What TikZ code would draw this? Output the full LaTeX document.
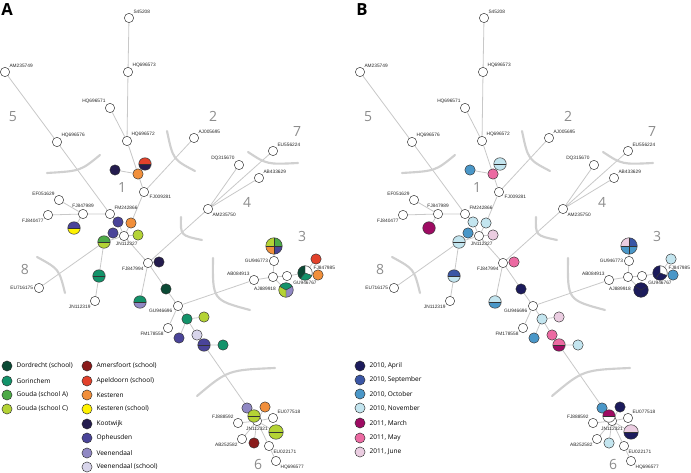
\documentclass[tikz,border=0pt]{standalone}
\usepackage{fontspec}
\setmainfont{Open Sans}
\newfontfamily\lblfont{Liberation Sans}
\usetikzlibrary{backgrounds}

\definecolor{dordrecht}{HTML}{0B4A35}
\definecolor{gorinchem}{HTML}{13936A}
\definecolor{goudaA}{HTML}{4DAA47}
\definecolor{goudaC}{HTML}{B4D335}
\definecolor{amersfoort}{HTML}{8A1B1B}
\definecolor{apeldoorn}{HTML}{E2412B}
\definecolor{kesteren}{HTML}{F18F3B}
\definecolor{kesterenS}{HTML}{FFF200}
\definecolor{kootwijk}{HTML}{241C4E}
\definecolor{opheusden}{HTML}{4A4499}
\definecolor{veenendaal}{HTML}{9088C4}
\definecolor{veenendaalS}{HTML}{D8D5EB}
\definecolor{apr}{HTML}{1C1B5C}
\definecolor{sep}{HTML}{3A56A5}
\definecolor{oct}{HTML}{4A97C8}
\definecolor{nov}{HTML}{C3E5EF}
\definecolor{mar}{HTML}{9E0B63}
\definecolor{may}{HTML}{EC6AA2}
\definecolor{jun}{HTML}{EBCDE1}
\definecolor{edge}{HTML}{C8C8C8}
\definecolor{cut}{HTML}{D0D0D0}
\definecolor{num}{HTML}{8C8C8C}

\tikzset{
  hap/.style={circle, draw=black!80, fill=white, line width=0.35pt, minimum size=7pt, inner sep=0pt},
  dot/.style={hap, minimum size=7.8pt},
  dotm/.style={hap, minimum size=9.4pt},
  dotl/.style={hap, minimum size=10.9pt},
  dotxl/.style={hap, minimum size=12.4pt},
  lbl/.style={font=\lblfont\fontsize{3.6}{4}\selectfont, inner sep=0.6pt, text=black!85},
  link/.style={draw=edge, line width=0.6pt},
  cut/.style={draw=cut, line width=1.6pt, line cap=round},
  nr/.style={font=\fontsize{10.5}{12}\selectfont, text=num, inner sep=0pt},
  panel/.style={font=\bfseries\fontsize{12.5}{14}\selectfont, inner sep=0pt},
  legdot/.style={circle, draw=black!80, line width=0.35pt, minimum size=7.6pt, inner sep=0pt},
  legtxt/.style={font=\fontsize{4.9}{6}\selectfont, inner sep=0pt, xshift=3pt},
  halves/.style 2 args={path picture={
    \fill[#1] (path picture bounding box.north west) rectangle (path picture bounding box.east);
    \fill[#2] (path picture bounding box.west) rectangle (path picture bounding box.south east);
    \draw[line width=0.35pt] (path picture bounding box.west) -- (path picture bounding box.east);}},
  quarters/.style n args={4}{path picture={
    \fill[#1] (path picture bounding box.center) rectangle (path picture bounding box.north west);
    \fill[#2] (path picture bounding box.center) rectangle (path picture bounding box.north east);
    \fill[#3] (path picture bounding box.center) rectangle (path picture bounding box.south west);
    \fill[#4] (path picture bounding box.center) rectangle (path picture bounding box.south east);
    \draw[line width=0.35pt] (path picture bounding box.north) -- (path picture bounding box.south)
      (path picture bounding box.west) -- (path picture bounding box.east);}},
  pie/.style n args={6}{fill=#3, path picture={
    \fill[#1] (path picture bounding box.center) -- ++(#4:8pt) arc[start angle=#4, end angle=#5, radius=8pt] -- cycle;
    \fill[#2] (path picture bounding box.center) -- ++(#5:8pt) arc[start angle=#5, end angle=#6, radius=8pt] -- cycle;
    \draw[line width=0.35pt] (path picture bounding box.center) -- ++(#4:8pt)
      (path picture bounding box.center) -- ++(#5:8pt) (path picture bounding box.center) -- ++(#6:8pt);}},
  % barvy vzorku v panelu A a B
  A-h1/.style={fill=kootwijk}, B-h1/.style={fill=oct},
  A-h2/.style={fill=kesteren}, B-h2/.style={fill=may},
  A-h3/.style={halves={apeldoorn}{kootwijk}}, B-h3/.style={halves={nov}{nov}},
  A-h4/.style={halves={opheusden}{kesterenS}}, B-h4/.style={fill=mar},
  A-h5/.style={fill=opheusden}, B-h5/.style={fill=nov},
  A-h6/.style={fill=kesteren}, B-h6/.style={fill=nov},
  A-h7/.style={fill=opheusden}, B-h7/.style={fill=oct},
  A-h8/.style={fill=goudaC}, B-h8/.style={fill=jun},
  A-h9/.style={halves={goudaA}{goudaC}}, B-h9/.style={halves={nov}{nov}},
  A-h10/.style={halves={gorinchem}{gorinchem}}, B-h10/.style={halves={sep}{nov}},
  A-h11/.style={fill=kootwijk}, B-h11/.style={fill=may},
  A-h12/.style={fill=dordrecht}, B-h12/.style={fill=apr},
  A-h13/.style={halves={gorinchem}{veenendaal}}, B-h13/.style={halves={nov}{oct}},
  A-h14/.style={fill=gorinchem}, B-h14/.style={fill=nov},
  A-h15/.style={fill=goudaC}, B-h15/.style={fill=jun},
  A-h16/.style={fill=opheusden}, B-h16/.style={fill=oct},
  A-h17/.style={fill=veenendaalS}, B-h17/.style={fill=may},
  A-h18/.style={halves={opheusden}{opheusden}}, B-h18/.style={halves={may}{mar}},
  A-h19/.style={fill=gorinchem}, B-h19/.style={fill=nov},
  A-h20/.style={quarters={goudaC}{goudaA}{kesteren}{opheusden}}, B-h20/.style={quarters={jun}{sep}{oct}{oct}},
  A-h21/.style={pie={dordrecht}{gorinchem}{white}{90}{230}{340}}, B-h21/.style={pie={apr}{apr}{white}{90}{230}{340}},
  A-h22/.style={fill=apeldoorn}, B-h22/.style={fill=nov},
  A-h23/.style={fill=kesteren}, B-h23/.style={fill=oct},
  A-h24/.style={pie={gorinchem}{goudaC}{veenendaal}{30}{150}{270}}, B-h24/.style={pie={apr}{apr}{apr}{30}{150}{270}},
  A-h25/.style={fill=veenendaal}, B-h25/.style={fill=oct},
  A-h26/.style={fill=kesteren}, B-h26/.style={fill=apr},
  A-h27/.style={halves={goudaC}{goudaC}}, B-h27/.style={halves={mar}{white}},
  A-h28/.style={halves={goudaC}{goudaC}}, B-h28/.style={halves={jun}{apr}},
  A-h29/.style={fill=amersfoort}, B-h29/.style={fill=nov},
}

\begin{document}
\begin{tikzpicture}[x=0.75pt, y=-0.75pt]
  \useasboundingbox (0,0) rectangle (691,473);

  \node[panel] (tA) at (7,9.5) {A};
  \node[panel] (tB) at (362,9.5) {B};

  % obě sítě
  \foreach \p/\s in {A/0,B/355}{
  \begin{scope}[shift={(\s,0)}]
    % haplotypy
    \node[hap, label={[lbl]above right:S45208}] (\p-S45208) at (129,18) {};
    \node[hap, label={[lbl]above right:HQ696573}] (\p-HQ696573) at (128,72) {};
    \node[hap, label={[lbl]above right:AM235749}] (\p-AM235749) at (5,72) {};
    \node[hap, label={[lbl]above left:HQ696571}] (\p-HQ696571) at (110,108) {};
    \node[hap, label={[lbl]above right:HQ696572}] (\p-HQ696572) at (127,141) {};
    \node[hap, label={[lbl]above right:HQ696576}] (\p-HQ696576) at (57,142) {};
    \node[hap, label={[lbl]above right:AJ005695}] (\p-AJ005695) at (194,138) {};
    \node[hap, label={[lbl]above right:EU556224}] (\p-EU556224) at (273,151) {};
    \node[hap, label={[lbl]above left:DQ315670}] (\p-DQ315670) at (239,165) {};
    \node[hap, label={[lbl]above right:AB433629}] (\p-AB433629) at (259,178) {};
    \node[hap, label={[lbl]below right:AM235750}] (\p-AM235750) at (208,209) {};
    \node[hap, label={[lbl]-20:FJ009281}] (\p-FJ009281) at (144,192) {};
    \node[hap, label={[lbl]above right:FM242866}] (\p-FM242866) at (110,214) {};
    \node[hap, label={[lbl]above:FJ847989}] (\p-FJ847989) at (83,214) {};
    \node[hap, label={[lbl]above left:EF051629}] (\p-EF051629) at (59,200) {};
    \node[hap, label={[lbl]below left:FJ840477}] (\p-FJ840477) at (48,215) {};
    \node[hap, label={[lbl,xshift=2pt]below:JN112327}] (\p-JN112327) at (124,236) {};
    \node[hap, label={[lbl]left:EU716175}] (\p-EU716175) at (39,288) {};
    \node[hap, label={[lbl]below left:JN112319}] (\p-JN112319) at (95,301) {};
    \node[hap, label={[lbl]below left:FJ847994}] (\p-FJ847994) at (148,263) {};
    \node[hap, label={[lbl]200:GU946696}] (\p-GU946696) at (178,306) {};
    \node[hap, label={[lbl]below left:FM178558}] (\p-FM178558) at (168,328) {};
    \node[hap, label={[lbl]left:GU946773}] (\p-GU946773) at (274,261) {};
    \node[hap, label={[lbl]above left:AB084913}] (\p-AB084913) at (254,280) {};
    \node[hap, label={[lbl,xshift=-6pt,yshift=-3pt]below:AJ889918}] (\p-AJ889918) at (273,277) {};
    \node[hap] (\p-w1) at (287,276) {};
    \node[hap, label={[lbl]above right:EU077518}] (\p-EU077518) at (273,418) {};
    \node[hap, label={[lbl]above left:FJ888592}] (\p-FJ888592) at (238,423) {};
    \node[hap, label={[lbl]below:JN112321}] (\p-JN112321) at (257,421) {};
    \node[hap, label={[lbl]below left:AB252582}] (\p-AB252582) at (242,439) {};
    \node[hap, label={[lbl]below right:EU022171}] (\p-EU022171) at (269,446) {};
    \node[hap, label={[lbl]below right:HQ696577}] (\p-HQ696577) at (276,461) {};

    % vzorky
    \node[dot, \p-h1] (\p-h1) at (115,170) {};
    \node[dot, \p-h2] (\p-h2) at (138,174) {};
    \node[dotm, \p-h3] (\p-h3) at (145,164) {};
    \node[dotm, \p-h4] (\p-h4) at (74,228) {};
    \node[dot, \p-h5] (\p-h5) at (118,222) {};
    \node[dot, \p-h6] (\p-h6) at (131,223) {};
    \node[dot, \p-h7] (\p-h7) at (113,233) {};
    \node[dot, \p-h8] (\p-h8) at (138,235) {};
    \node[dotm, \p-h9] (\p-h9) at (104,242) {};
    \node[dotm, \p-h10] (\p-h10) at (99,276) {};
    \node[dot, \p-h11] (\p-h11) at (159,262) {};
    \node[dot, \p-h12] (\p-h12) at (166,289) {};
    \node[dotm, \p-h13] (\p-h13) at (140,302) {};
    \node[dot, \p-h14] (\p-h14) at (187,319) {};
    \node[dot, \p-h15] (\p-h15) at (204,317) {};
    \node[dot, \p-h16] (\p-h16) at (179,338) {};
    \node[dot, \p-h17] (\p-h17) at (197,335) {};
    \node[dotm, \p-h18] (\p-h18) at (204,345) {};
    \node[dot, \p-h19] (\p-h19) at (223,345) {};
    \node[dotxl, \p-h20] (\p-h20) at (274,246) {};
    \node[dotl, \p-h21, label={[lbl]below:GU946767}] (\p-h21) at (305,273) {};
    \node[dot, \p-h22, label={[lbl,xshift=-5.5pt,yshift=-1.5pt]below right:FJ847985}] (\p-h22) at (316,259) {};
    \node[dot, \p-h23] (\p-h23) at (318,275) {};
    \node[dotl, \p-h24] (\p-h24) at (286,290) {};
    \node[dot, \p-h25] (\p-h25) at (247,408) {};
    \node[dot, \p-h26] (\p-h26) at (265,407) {};
    \node[dotm, \p-h27] (\p-h27) at (254,416) {};
    \node[dotl, \p-h28] (\p-h28) at (276,432) {};
    \node[dot, \p-h29] (\p-h29) at (254,443) {};

    % spojnice
    \begin{pgfonlayer}{background}
      \draw[link] (\p-S45208) -- (\p-HQ696573) -- (\p-HQ696572) -- (\p-h2) -- (\p-FJ009281)
        -- (\p-h6) -- (\p-JN112327) -- (\p-FJ847994) -- (\p-h12) -- (\p-GU946696)
        -- (\p-AB084913) -- (\p-AJ889918) -- (\p-w1) -- (\p-h21);
      \draw[link] (\p-HQ696571) -- (\p-HQ696572);
      \draw[link] (\p-h1) -- (\p-h2) -- (\p-h3);
      \draw[link] (\p-FJ009281) -- (\p-AJ005695);
      \draw[link] (\p-AM235749) -- (\p-HQ696576) -- (\p-FM242866) -- (\p-h5) -- (\p-JN112327);
      \draw[link] (\p-EF051629) -- (\p-FJ847989) -- (\p-FJ840477) (\p-FJ847989) -- (\p-FM242866);
      \draw[link] (\p-FJ847989) -- (\p-h4);
      \draw[link] (\p-h7) -- (\p-JN112327) -- (\p-h8) (\p-JN112327) -- (\p-h9) -- (\p-EU716175)
        (\p-h9) -- (\p-h10) -- (\p-JN112319);
      \draw[link] (\p-FJ847994) -- (\p-h11) (\p-FJ847994) -- (\p-h13) (\p-FJ847994) -- (\p-AM235750);
      \draw[link] (\p-DQ315670) -- (\p-AM235750) -- (\p-AB433629) (\p-AM235750) -- (\p-EU556224);
      \draw[link] (\p-h20) -- (\p-GU946773) -- (\p-AJ889918) -- (\p-h24);
      \draw[link] (\p-h22) -- (\p-h21) -- (\p-h23);
      \draw[link] (\p-FM178558) -- (\p-GU946696) -- (\p-h14) -- (\p-h15) (\p-h14) -- (\p-h16)
        (\p-h14) -- (\p-h17) -- (\p-h18) -- (\p-h19) (\p-h18) -- (\p-JN112321);
      \draw[link] (\p-JN112321) -- (\p-h25) (\p-JN112321) -- (\p-h26) (\p-JN112321) -- (\p-EU077518)
        (\p-JN112321) -- (\p-FJ888592) (\p-JN112321) -- (\p-AB252582) (\p-JN112321) -- (\p-h29)
        (\p-JN112321) -- (\p-h28) (\p-JN112321) -- (\p-EU022171) -- (\p-HQ696577);
    \end{pgfonlayer}

    % oblouky
    \draw[cut] (47,173) .. controls (80.5,171) .. (100,155);
    \draw[cut] (167,131) .. controls (173,159.5) .. (195,171);
    \draw[cut] (248,152) .. controls (267,164.5) .. (298,163);
    \draw[cut] (181,217) .. controls (180.5,235.5) .. (202,240);
    \draw[cut] (37,257) .. controls (59,269) .. (65,293);
    \draw[cut] (213,258) .. controls (212.5,300) .. (250,310);
    \draw[cut] (197,396) .. controls (228,370) .. (275,368);

    % čísla skupin
    \node[nr] (\p-n1) at (122,188) {1};
    \node[nr] (\p-n2) at (213,116) {2};
    \node[nr] (\p-n3) at (302,237) {3};
    \node[nr] (\p-n4) at (247,202) {4};
    \node[nr] (\p-n5) at (13,117) {5};
    \node[nr] (\p-n6) at (258,464) {6};
    \node[nr] (\p-n7) at (297,132) {7};
    \node[nr] (\p-n8) at (25,270) {8};
  \end{scope}
  }

  % legenda A
  \node[legdot, fill=dordrecht, label={[legtxt]right:Dordrecht (school)}] (lg-dor) at (7,366) {};
  \node[legdot, fill=gorinchem, label={[legtxt]right:Gorinchem}] (lg-gor) at (7,381) {};
  \node[legdot, fill=goudaA, label={[legtxt]right:Gouda (school A)}] (lg-gda) at (7,395) {};
  \node[legdot, fill=goudaC, label={[legtxt]right:Gouda (school C)}] (lg-gdc) at (7,409) {};
  \node[legdot, fill=amersfoort, label={[legtxt]right:Amersfoort (school)}] (lg-ame) at (87,366) {};
  \node[legdot, fill=apeldoorn, label={[legtxt]right:Apeldoorn (school)}] (lg-ape) at (87,381) {};
  \node[legdot, fill=kesteren, label={[legtxt]right:Kesteren}] (lg-kes) at (87,395) {};
  \node[legdot, fill=kesterenS, label={[legtxt]right:Kesteren (school)}] (lg-kss) at (87,409) {};
  \node[legdot, fill=kootwijk, label={[legtxt]right:Kootwijk}] (lg-koo) at (87,424) {};
  \node[legdot, fill=opheusden, label={[legtxt]right:Opheusden}] (lg-oph) at (87,438) {};
  \node[legdot, fill=veenendaal, label={[legtxt]right:Veenendaal}] (lg-vee) at (87,453) {};
  \node[legdot, fill=veenendaalS, label={[legtxt]right:Veenendaal (school)}] (lg-ves) at (87,467) {};

  % legenda B
  \node[legdot, fill=apr, label={[legtxt]right:{2010, April}}] (lg-apr) at (360,366) {};
  \node[legdot, fill=sep, label={[legtxt]right:{2010, September}}] (lg-sep) at (360,380) {};
  \node[legdot, fill=oct, label={[legtxt]right:{2010, October}}] (lg-oct) at (360,394) {};
  \node[legdot, fill=nov, label={[legtxt]right:{2010, November}}] (lg-nov) at (360,408) {};
  \node[legdot, fill=mar, label={[legtxt]right:{2011, March}}] (lg-mar) at (360,423) {};
  \node[legdot, fill=may, label={[legtxt]right:{2011, May}}] (lg-may) at (360,438) {};
  \node[legdot, fill=jun, label={[legtxt]right:{2011, June}}] (lg-jun) at (360,452) {};
\end{tikzpicture}
\end{document}
